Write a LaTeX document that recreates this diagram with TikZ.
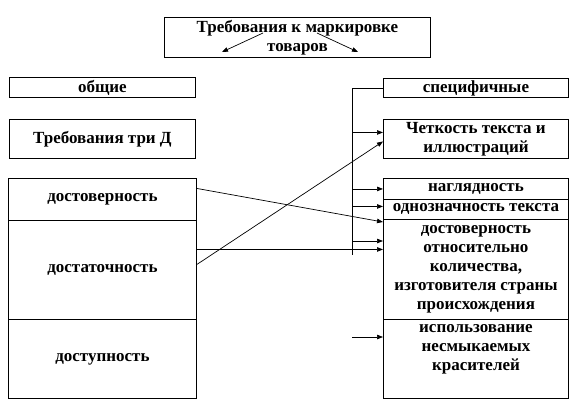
\documentclass[tikz,border=0pt]{standalone}
\usepackage{fontspec}
\setmainfont{Liberation Serif}
\usetikzlibrary{arrows.meta}

\tikzset{
  box/.style={draw, line width=0.9pt, inner sep=0pt, anchor=north west,
    align=center},
  arr/.style={-{Triangle[length=6pt,width=4.5pt]}, line width=0.7pt}
}

\begin{document}
\begin{tikzpicture}[x=1pt, y=-1pt,
    every node/.style={font=\bfseries\fontsize{17}{19}\selectfont}]
  \useasboundingbox (0,0) rectangle (578,410);

  % heading
  \node[box, minimum width=266pt, minimum height=40pt] (title) at (164,17)
      {Требования к маркировке\\товаров};
  \coordinate (tl) at (263,33);
  \coordinate (tr) at (317,33);
  \coordinate (tlEnd) at (222,52);
  \coordinate (trEnd) at (358,52);

  % left column
  \node[box, minimum width=186pt, minimum height=20pt] (common) at (9,77) {общие};
  \node[box, minimum width=186pt, minimum height=39pt] (threeD) at (9,119)
      {Требования три Д};
  \node[box, minimum width=188pt, minimum height=42pt] (reliab) at (8,178)
      {достоверность};
  \node[box, minimum width=188pt, minimum height=99pt] (suffic) at (8,220)
      {достаточность};
  \node[box, minimum width=188pt, minimum height=79pt] (access) at (8,319)
      {доступность};

  % right column
  \node[box, minimum width=185pt, minimum height=19pt] (specif) at (383,78)
      {специфичные};
  \node[box, minimum width=185pt, minimum height=39pt] (clarity) at (383,119)
      {Четкость текста и\\иллюстраций};
  \node[box, minimum width=185pt, minimum height=21pt] (visual) at (383,178)
      {наглядность};
  \node[box, minimum width=185pt, minimum height=20pt] (unique) at (383,199)
      {однозначность текста};
  \node[box, minimum width=185pt, minimum height=100pt] (origin) at (383,219)
      {достоверность\\относительно\\количества,\\изготовителя страны\\происхождения};
  \node[box, minimum width=185pt, minimum height=79pt] (dyes) at (383,319) {};
  \node[anchor=north, align=center, inner sep=0pt] (dyesText)
      at ([yshift=-5pt]dyes.north) {использование\\несмыкаемых\\красителей};

  % bus line
  \coordinate (busTop) at (352,0 |- specif.west);
  \coordinate (busBot) at (352,255);

  \draw[arr] (tl) -- (tlEnd);
  \draw[arr] (tr) -- (trEnd);

  \draw[line width=0.7pt] (specif.west) -- (busTop) -- (busBot);
  \draw[arr] ([yshift=6.5pt]clarity.west -| busTop) -- ([yshift=6.5pt]clarity.west);
  \draw[arr] (visual.west -| busTop) -- (visual.west);
  \draw[arr] ([yshift=3pt]unique.west -| busTop) -- ([yshift=3pt]unique.west);
  \draw[arr] ([yshift=-22pt]origin.north west -| busTop)
      -- ([yshift=-22pt]origin.north west);
  \draw[arr] ([yshift=-18pt]dyes.north west -| busTop)
      -- ([yshift=-18pt]dyes.north west);

  \draw[arr] ([yshift=11pt]reliab.east) -- ([yshift=-3pt]origin.north west);
  \draw[arr] ([yshift=20.5pt]suffic.east) -- ([yshift=20.5pt]suffic.east -| origin.west);
  \draw[arr] ([yshift=5.5pt]suffic.east) -- ([yshift=-2.5pt]clarity.west);
\end{tikzpicture}
\end{document}
